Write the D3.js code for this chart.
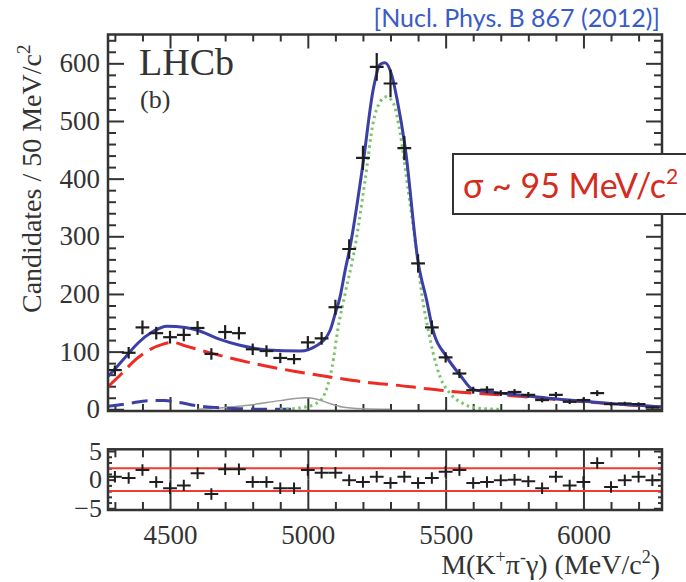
<!DOCTYPE html>
<html>
<head>
<meta charset="utf-8">
<script src="https://cdnjs.cloudflare.com/ajax/libs/d3/7.8.5/d3.min.js"></script>
<style>
  body { margin: 0; background: #fff; }
  .axis path { display: none; }
  .axis line { stroke: #333; stroke-width: 2; }
</style>
</head>
<body>
<div id="plot"></div>
<script>

// histogram: bin centres (50 MeV bins), candidates, errors
var binCenters = [4300, 4350, 4400, 4450, 4500, 4550, 4600, 4650, 4700, 4750,
  4800, 4850, 4900, 4950, 5000, 5050, 5100, 5150, 5200, 5250,
  5300, 5350, 5400, 5450, 5500, 5550, 5600, 5650, 5700, 5750,
  5800, 5850, 5900, 5950, 6000, 6050, 6100, 6150, 6200, 6250];
var counts = [68, 98, 142, 132, 125, 129, 141, 96, 134, 132,
  104, 101, 89, 87, 116, 123, 177, 278, 436, 594,
  565, 453, 253, 142, 90, 62, 33, 34, 28, 30,
  25, 16, 25, 13, 16, 28, 9, 10, 9, 3];
var errors = [8, 10, 12, 11, 11, 11, 12, 10, 12, 11,
  10, 10, 9, 9, 11, 11, 13, 17, 21, 24,
  24, 21, 16, 12, 9, 8, 6, 6, 5, 5,
  5, 4, 5, 4, 4, 5, 3, 3, 3, 2];
var pulls = [0.5, 0.3, 1.7, -0.4, -1.5, -1.0, 1.1, -2.5, 1.8, 1.8,
  -0.4, -0.4, -1.5, -1.5, 1.7, 1.2, 1.2, -0.1, -0.4, 0.5,
  -0.6, 0.5, -0.6, 0.3, 1.4, 1.7, -0.6, -0.4, -0.1, 0.0,
  -0.3, -1.5, 0.5, -1.0, -0.4, 2.9, -1.3, -0.1, 0.5, -0.1];

// fit curves
var totalMass = [4275, 4300, 4337, 4384, 4435, 4490, 4555, 4600, 4671, 4754, 4852, 4972,
  5034, 5081, 5100, 5117, 5135, 5153, 5200, 5237, 5262, 5280, 5306, 5324, 5353,
  5400, 5433, 5451, 5505, 5553, 5600, 5700, 5800, 5900, 6000, 6100, 6200, 6285];
var totalVal = [57, 70, 90, 115, 134, 144, 142, 137, 123, 111, 103, 101,
  111, 137, 167, 195, 240, 281, 425, 554, 598, 601, 577, 537, 455,
  256, 185, 143, 90, 59, 34, 28, 23, 18, 14, 10, 7, 4];

var combMass = [4275, 4325, 4375, 4425, 4475, 4510, 4555, 4652, 4798, 4950, 5080,
  5226, 5317, 5407, 5500, 5600, 5700, 5800, 5900, 6000, 6100, 6200, 6285];
var combVal = [39, 62, 86, 103, 113, 116, 110, 97, 80, 66, 56,
  46, 42, 37, 32, 28, 25, 21, 17, 13, 10, 6, 4];

var sigMass = [4900, 4980, 5030, 5055, 5088, 5110, 5135, 5171, 5208, 5237, 5262, 5285,
  5310, 5335, 5364, 5389, 5415, 5437, 5455, 5480, 5515, 5563, 5614, 5700];
var sigVal = [0, 3, 10, 21, 73, 142, 200, 281, 398, 497, 533, 542,
  531, 479, 380, 294, 195, 137, 97, 56, 28, 10, 2, 0];

var bkgMass = [4600, 4700, 4800, 4900, 4990, 5030, 5080, 5124, 5200, 5300];
var bkgVal = [0, 3, 8, 15, 20, 18, 10, 4, 1, 0];

var lowMass = [4275, 4350, 4425, 4480, 4530, 4600, 4670, 4750, 4850, 4950];
var lowVal = [5, 10, 15, 15, 12, 6, 3, 1, 0, 0];

var yTicks = [0, 100, 200, 300, 400, 500, 600];
var xTicks = [4500, 5000, 5500, 6000];
var pullTicks = [-5, 0, 5];
var pullBand = [-2, 2];

var svgW = 686;
var svgH = 582;
var frame = {left: 108, right: 662, top: 34.5, bottom: 411};
var pad = {top: 449.3, bottom: 510};
var serif = "Liberation Serif, DejaVu Serif, serif";

var svg = d3.select("#plot")
  .append("svg")
  .attr("width", svgW)
  .attr("height", svgH)
  .style("background", "#fff");

var x = d3.scaleLinear().domain([4275, 6285]).range([frame.left, frame.right]);
var y = d3.scaleLinear().domain([-3, 650]).range([frame.bottom, frame.top]);
var yp = d3.scaleLinear().domain([-5.3, 5.3]).range([pad.bottom, pad.top]);

svg.append("clipPath").attr("id", "clipMain")
  .append("rect")
  .attr("x", frame.left).attr("y", frame.top)
  .attr("width", frame.right - frame.left).attr("height", frame.bottom - frame.top);

svg.append("clipPath").attr("id", "clipPad")
  .append("rect")
  .attr("x", frame.left).attr("y", pad.top)
  .attr("width", frame.right - frame.left).attr("height", pad.bottom - pad.top);

// ---- main pad axes (ticks point inward, ROOT style)
var minorY = d3.range(0, 651, 20).filter(d => d % 100 !== 0);
var minorX = d3.range(4300, 6285, 100).filter(d => d % 500 !== 0);
var fmt = d3.format("d");

function addAxis(axis, tx, ty, fontSize) {
  var g = svg.append("g")
    .attr("class", "axis")
    .attr("transform", `translate(${tx}, ${ty})`)
    .call(axis)
    .attr("font-family", serif)
    .attr("font-size", fontSize);
  g.selectAll("text").attr("fill", "#333");
  return g;
}

addAxis(d3.axisLeft(y).tickValues(yTicks).tickFormat(fmt).tickSize(-16).tickPadding(8), frame.left, 0, 27);
addAxis(d3.axisLeft(y).tickValues(minorY).tickSize(-8).tickFormat(""), frame.left, 0, 10);
addAxis(d3.axisRight(y).tickValues(yTicks).tickSize(-16).tickFormat(""), frame.right, 0, 10);
addAxis(d3.axisRight(y).tickValues(minorY).tickSize(-8).tickFormat(""), frame.right, 0, 10);

addAxis(d3.axisBottom(x).tickValues(xTicks).tickSize(-14).tickFormat(""), 0, frame.bottom, 10);
addAxis(d3.axisBottom(x).tickValues(minorX).tickSize(-7).tickFormat(""), 0, frame.bottom, 10);
addAxis(d3.axisTop(x).tickValues(xTicks).tickSize(-14).tickFormat(""), 0, frame.top, 10);
addAxis(d3.axisTop(x).tickValues(minorX).tickSize(-7).tickFormat(""), 0, frame.top, 10);

// ---- fit components
var plotArea = svg.append("g").attr("clip-path", "url(#clipMain)");

function curve(masses, vals) {
  return d3.line()
    .x((d, i) => x(masses[i]))
    .y(d => y(d))
    .curve(d3.curveMonotoneX)(vals);
}

plotArea.append("path")
  .attr("d", curve(bkgMass, bkgVal))
  .attr("fill", "none").attr("stroke", "#9a9a9a").attr("stroke-width", 1.5);

plotArea.append("path")
  .attr("d", curve(lowMass, lowVal))
  .attr("fill", "none").attr("stroke", "#3b3fa6").attr("stroke-width", 3)
  .attr("stroke-dasharray", "16,8");

plotArea.append("path")
  .attr("d", curve(sigMass, sigVal))
  .attr("fill", "none").attr("stroke", "#7cc46a").attr("stroke-width", 3)
  .attr("stroke-dasharray", "2.5,3.5");

plotArea.append("path")
  .attr("d", curve(combMass, combVal))
  .attr("fill", "none").attr("stroke", "#ee2a22").attr("stroke-width", 3)
  .attr("stroke-dasharray", "20,8");

plotArea.append("path")
  .attr("d", curve(totalMass, totalVal))
  .attr("fill", "none").attr("stroke", "#3b3fa6").attr("stroke-width", 3);

// ---- data points
var pts = svg.append("g").attr("clip-path", "url(#clipMain)");
binCenters.forEach(function(c, i) {
  pts.append("line")
    .attr("x1", x(c - 25)).attr("x2", x(c + 25))
    .attr("y1", y(counts[i])).attr("y2", y(counts[i]))
    .attr("stroke", "#1e1e1e").attr("stroke-width", 2.2);
  pts.append("line")
    .attr("x1", x(c)).attr("x2", x(c))
    .attr("y1", y(counts[i] - errors[i])).attr("y2", y(counts[i] + errors[i]))
    .attr("stroke", "#1e1e1e").attr("stroke-width", 2.2);
});

svg.append("rect")
  .attr("x", frame.left).attr("y", frame.top)
  .attr("width", frame.right - frame.left).attr("height", frame.bottom - frame.top)
  .attr("fill", "none").attr("stroke", "#333").attr("stroke-width", 2.5);

// ---- pull pad
var pullMinor = d3.range(-5, 6, 1).filter(d => d % 5 !== 0);
addAxis(d3.axisLeft(yp).tickValues(pullTicks).tickFormat(fmt).tickSize(-8).tickPadding(6), frame.left, 0, 26);
addAxis(d3.axisLeft(yp).tickValues(pullMinor).tickSize(-4).tickFormat(""), frame.left, 0, 10);
addAxis(d3.axisRight(yp).tickValues(pullTicks).tickSize(-8).tickFormat(""), frame.right, 0, 10);
addAxis(d3.axisRight(yp).tickValues(pullMinor).tickSize(-4).tickFormat(""), frame.right, 0, 10);

var padH = pad.bottom - pad.top;
addAxis(d3.axisBottom(x).tickValues(xTicks).tickFormat(fmt).tickSize(-padH / 2).tickPadding(15), 0, pad.bottom, 27);
addAxis(d3.axisBottom(x).tickValues(minorX).tickSize(-8).tickFormat(""), 0, pad.bottom, 10);
addAxis(d3.axisTop(x).tickValues(xTicks).tickSize(-padH / 2).tickFormat(""), 0, pad.top, 10);
addAxis(d3.axisTop(x).tickValues(minorX).tickSize(-8).tickFormat(""), 0, pad.top, 10);

var padArea = svg.append("g").attr("clip-path", "url(#clipPad)");
padArea.selectAll(".band")
  .data(pullBand)
  .enter()
  .append("line")
  .attr("x1", frame.left).attr("x2", frame.right)
  .attr("y1", d => yp(d)).attr("y2", d => yp(d))
  .attr("stroke", "#f03a32").attr("stroke-width", 2);

binCenters.forEach(function(c, i) {
  padArea.append("line")
    .attr("x1", x(c - 25)).attr("x2", x(c + 25))
    .attr("y1", yp(pulls[i])).attr("y2", yp(pulls[i]))
    .attr("stroke", "#1e1e1e").attr("stroke-width", 2);
  padArea.append("line")
    .attr("x1", x(c)).attr("x2", x(c))
    .attr("y1", yp(pulls[i] - 1)).attr("y2", yp(pulls[i] + 1))
    .attr("stroke", "#1e1e1e").attr("stroke-width", 2);
});

svg.append("rect")
  .attr("x", frame.left).attr("y", pad.top)
  .attr("width", frame.right - frame.left).attr("height", padH)
  .attr("fill", "none").attr("stroke", "#333").attr("stroke-width", 2.5);

// ---- titles
var yTitle = svg.append("text")
  .attr("transform", "translate(41, 313) rotate(-90)")
  .attr("font-family", serif).attr("font-size", 28).attr("fill", "#333");
yTitle.append("tspan").text("Candidates / 50 MeV/c");
yTitle.append("tspan").attr("font-size", 19).attr("dy", -11).text("2");

var xTitle = svg.append("text")
  .attr("x", 660).attr("y", 574)
  .attr("text-anchor", "end")
  .attr("font-family", serif).attr("font-size", 28).attr("fill", "#333");
xTitle.append("tspan").text("M(K");
xTitle.append("tspan").attr("font-size", 18).attr("dy", -11).text("+");
xTitle.append("tspan").attr("dy", 11).text("π");
xTitle.append("tspan").attr("font-size", 18).attr("dy", -11).text("-");
xTitle.append("tspan").attr("dy", 11).text("γ) (MeV/c");
xTitle.append("tspan").attr("font-size", 18).attr("dy", -11).text("2");
xTitle.append("tspan").attr("dy", 11).text(")");

svg.append("text")
  .attr("x", 139).attr("y", 75)
  .attr("font-family", serif).attr("font-size", 38).attr("fill", "#333")
  .text("LHCb");

svg.append("text")
  .attr("x", 140).attr("y", 108)
  .attr("font-family", serif).attr("font-size", 26).attr("fill", "#333")
  .text("(b)");

svg.append("text")
  .attr("x", 660).attr("y", 27)
  .attr("text-anchor", "end")
  .attr("font-family", "Lato, 'Open Sans', sans-serif").attr("font-size", 25)
  .attr("fill", "#3a5cc8")
  .text("[Nucl. Phys. B 867 (2012)]");

// resolution box
svg.append("rect")
  .attr("x", 453).attr("y", 154)
  .attr("width", 260).attr("height", 60)
  .attr("fill", "#fff").attr("stroke", "#333").attr("stroke-width", 2);

var sig = svg.append("text")
  .attr("x", 463).attr("y", 198)
  .attr("font-family", "Lato, 'Open Sans', sans-serif").attr("font-size", 34)
  .attr("fill", "#d42c20");
sig.append("tspan").text("σ ~ 95 MeV/c");
sig.append("tspan").attr("font-size", 21).attr("dy", -14).text("2");

</script>
</body>
</html>
